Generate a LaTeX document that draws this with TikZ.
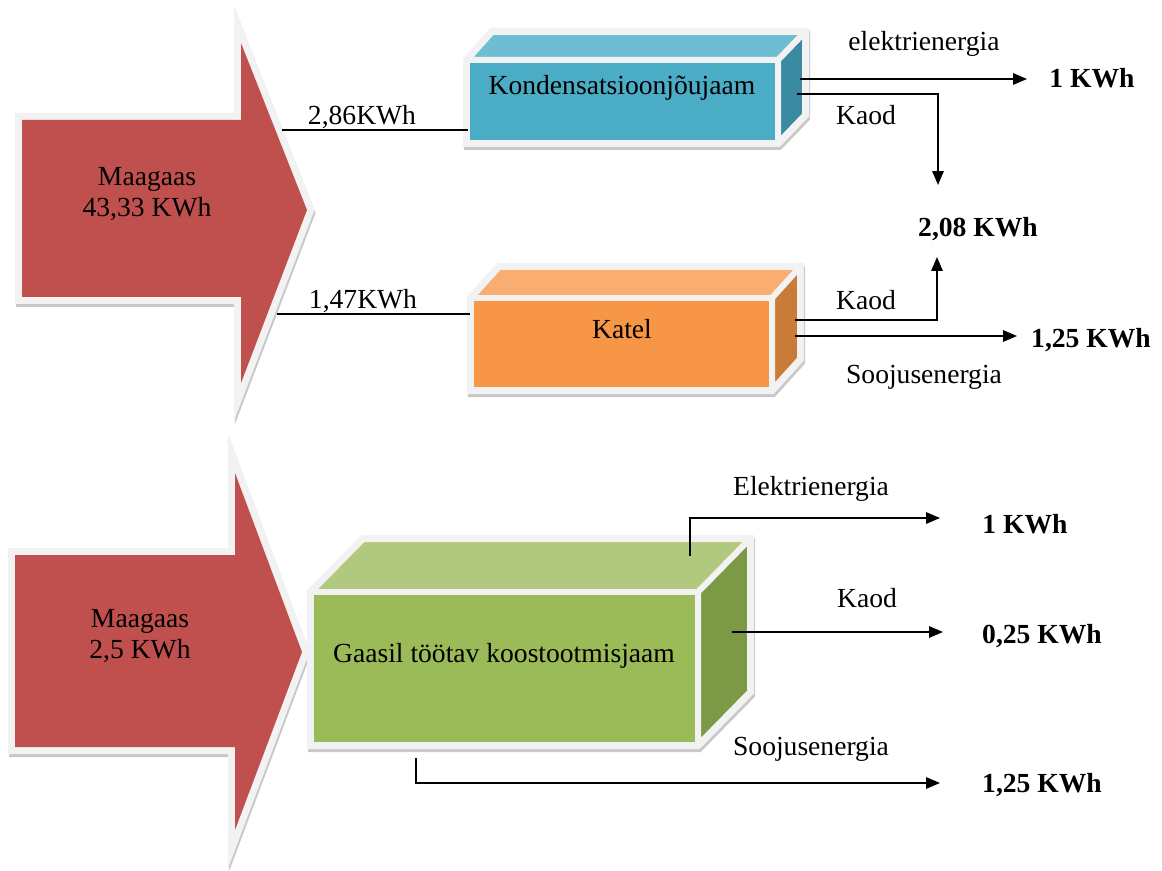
\documentclass[tikz,border=0pt]{standalone}
\usepackage{fontspec}
\setmainfont{Liberation Serif}
\usetikzlibrary{arrows.meta}

\definecolor{gasred}{HTML}{C0504D}
\definecolor{rimgray}{HTML}{F2F2F2}
\definecolor{shadowgray}{HTML}{C8C8C8}
\definecolor{kjjfront}{HTML}{4BACC6}
\definecolor{kjjtop}{HTML}{6FBDD3}
\definecolor{kjjside}{HTML}{3A8BA1}
\definecolor{katfront}{HTML}{F79646}
\definecolor{kattop}{HTML}{F9AD70}
\definecolor{katside}{HTML}{C97B37}
\definecolor{chpfront}{HTML}{9BBB59}
\definecolor{chptop}{HTML}{B0C97E}
\definecolor{chpside}{HTML}{7C9A46}

\begin{document}
\begin{tikzpicture}[
    x=0.02cm, y=-0.02cm,
    txt/.style={font=\fontsize{15.7}{18.1}\selectfont, inner sep=0pt},
    val/.style={font=\fontsize{15.7}{18.1}\selectfont\bfseries, inner sep=0pt},
    feed/.style={line width=0.85pt},
    flow/.style={line width=0.85pt, -{Triangle[length=2.8mm,width=2.3mm]}},
    arrowrim/.style={draw=rimgray, fill=rimgray, line width=2.8mm, line join=miter},
    arrowshade/.style={draw=shadowgray, fill=shadowgray, line width=2.8mm, line join=miter},
    boxrim/.style={draw=rimgray, fill=rimgray, line width=1.6mm, line join=miter},
    boxshade/.style={draw=shadowgray, fill=shadowgray, line width=1.6mm, line join=miter},
    face/.style={draw=rimgray, line width=1.2mm, line join=round},
  ]
    \useasboundingbox (0,0) rectangle (1162,871);

    % input arrows
    \draw[arrowshade] (23,123) -- (242,123) -- (242,46) -- (308,213) -- (242,386) -- (242,300) -- (23,300) -- cycle;
    \draw[arrowrim] (22,120) -- (241,120) -- (241,43) -- (307,210) -- (241,383) -- (241,297) -- (22,297) -- cycle;
    \fill[gasred] (22,120) -- (241,120) -- (241,43) -- (307,210) -- (241,383) -- (241,297) -- (22,297) -- cycle;
    \node[txt, align=center] (gas1) at (147,194) {Maagaas\\43,33 KWh};

    \draw[arrowshade] (16,558) -- (236,558) -- (236,476) -- (303,655) -- (236,833) -- (236,750) -- (16,750) -- cycle;
    \draw[arrowrim] (15,555) -- (235,555) -- (235,473) -- (302,652) -- (235,830) -- (235,747) -- (15,747) -- cycle;
    \fill[gasred] (15,555) -- (235,555) -- (235,473) -- (302,652) -- (235,830) -- (235,747) -- (15,747) -- cycle;
    \node[txt, align=center] (gas2) at (140,636) {Maagaas\\2,5 KWh};

    % Kondensatsioonjoujaam
    \draw[boxshade] (468,63) -- (493,35) -- (806,35) -- (806,118) -- (779,146) -- (468,146) -- cycle;
    \draw[boxrim] (467,60) -- (492,32) -- (805,32) -- (805,115) -- (778,143) -- (467,143) -- cycle;
    \draw[face, fill=kjjtop] (467,60) -- (492,32) -- (805,32) -- (778,60) -- cycle;
    \draw[face, fill=kjjside] (778,60) -- (805,32) -- (805,115) -- (778,143) -- cycle;
    \draw[face, fill=kjjfront] (467,60) rectangle (778,143);
    \node[txt, anchor=base] (kjj) at (622,95) {Kondensatsioonjõujaam};

    % Katel
    \draw[boxshade] (472,301) -- (500,270) -- (801,270) -- (801,362) -- (773,393) -- (472,393) -- cycle;
    \draw[boxrim] (471,298) -- (499,267) -- (800,267) -- (800,359) -- (772,390) -- (471,390) -- cycle;
    \draw[face, fill=kattop] (471,298) -- (499,267) -- (800,267) -- (772,298) -- cycle;
    \draw[face, fill=katside] (772,298) -- (800,267) -- (800,359) -- (772,390) -- cycle;
    \draw[face, fill=katfront] (471,298) rectangle (772,390);
    \node[txt, anchor=base] (katel) at (622,338) {Katel};

    % Gaasil tootav koostootmisjaam
    \draw[boxshade] (312,595) -- (364,542) -- (751,542) -- (751,695) -- (699,748) -- (312,748) -- cycle;
    \draw[boxrim] (311,592) -- (363,539) -- (750,539) -- (750,692) -- (698,745) -- (311,745) -- cycle;
    \draw[face, fill=chptop] (311,592) -- (363,539) -- (750,539) -- (698,592) -- cycle;
    \draw[face, fill=chpside] (698,592) -- (750,539) -- (750,692) -- (698,745) -- cycle;
    \draw[face, fill=chpfront] (311,592) rectangle (698,745);
    \node[txt, anchor=base] (chp) at (504,662) {Gaasil töötav koostootmisjaam};

    % feed lines
    \coordinate (gas1a) at (282,130);
    \coordinate (kjjin) at (468,130);
    \coordinate (gas1b) at (277,314);
    \coordinate (katin) at (470,314);
    \draw[feed] (gas1a) -- (kjjin);
    \draw[feed] (gas1b) -- (katin);
    \node[txt, anchor=base] (in1) at (362,125) {2,86KWh};
    \node[txt, anchor=base] (in2) at (363,309) {1,47KWh};

    % outputs, top
    \node[val, anchor=base] (el1) at (1092,88) {1 KWh};
    \node[val, anchor=base] (loss1) at (978,237) {2,08 KWh};
    \node[val, anchor=base] (heat1) at (1091,347) {1,25 KWh};
    \node[txt, anchor=base] (el1t) at (924,51) {elektrienergia};
    \node[txt, anchor=base] (kaod1) at (866,125) {Kaod};
    \node[txt, anchor=base] (kaod2) at (866,310) {Kaod};
    \node[txt, anchor=base] (heat1t) at (924,383) {Soojusenergia};

    \coordinate (kjjel) at (800,79);
    \coordinate (kjjloss) at (797,94);
    \coordinate (katloss) at (795,320);
    \coordinate (katheat) at (795,336);
    \coordinate (el1in) at (1027,79);
    \coordinate (lossin1) at (938,185);
    \coordinate (lossin2) at (937,257);
    \coordinate (heat1in) at (1017,336);
    \draw[flow] (kjjel) -- (el1in);
    \draw[flow] (kjjloss) -| (lossin1);
    \draw[flow] (katloss) -| (lossin2);
    \draw[flow] (katheat) -- (heat1in);

    % outputs, bottom
    \node[val, anchor=base] (el2) at (1025,533) {1 KWh};
    \node[val, anchor=base] (loss2) at (1042,643) {0,25 KWh};
    \node[val, anchor=base] (heat2) at (1042,792) {1,25 KWh};
    \node[txt, anchor=base] (el2t) at (811,495) {Elektrienergia};
    \node[txt, anchor=base] (kaod3) at (867,607) {Kaod};
    \node[txt, anchor=base] (heat2t) at (811,755) {Soojusenergia};

    \coordinate (chpel) at (690,556);
    \coordinate (chploss) at (732,632);
    \coordinate (chpheat) at (416,758);
    \coordinate (el2in) at (940,518);
    \coordinate (loss2in) at (943,632);
    \coordinate (heat2in) at (940,783);
    \draw[flow] (chpel) |- (el2in);
    \draw[flow] (chploss) -- (loss2in);
    \draw[flow] (chpheat) |- (heat2in);
  \end{tikzpicture}
\end{document}
